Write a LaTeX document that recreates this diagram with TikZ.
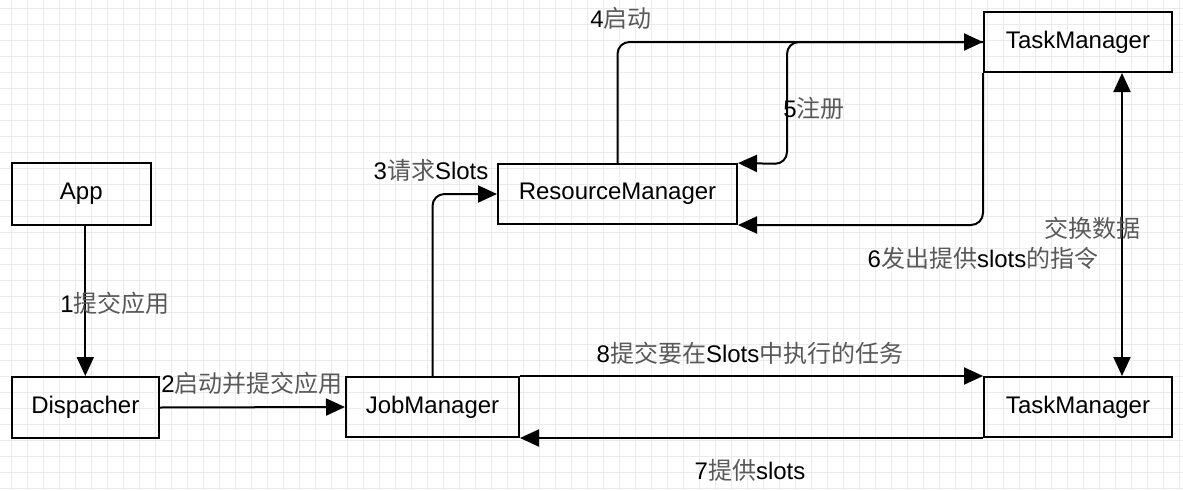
\documentclass[tikz,border=0pt]{standalone}
\usepackage{fontspec}
\setmainfont{Liberation Sans}
\newfontfamily\cjk{Noto Sans CJK SC}
\usetikzlibrary{calc,arrows.meta}
\newcommand{\zh}[1]{{\cjk\color{black!65}#1}}

\begin{document}
\begin{tikzpicture}[%
    x=1pt, y=-1pt,
    font=\fontsize{24}{28}\selectfont,
    bigtri/.tip={Triangle[length=19pt,width=17pt]},
    box/.style={draw, line width=2pt, minimum height=60pt, inner sep=0pt},
    lbl/.style={inner sep=0pt},
    flow/.style={line width=2pt, -bigtri},
    vh/.style={rounded corners=12pt, to path={|- (\tikztotarget)}},
    gridline/.style={black!8, line width=1pt}
  ]
    \useasboundingbox (0,0) rectangle (1183,490);
    \fill[white] (0,0) rectangle (1183,490);
    \foreach \gx in {11.7,27.7,...,1183} {\draw[gridline] (\gx,0) -- (\gx,490);};
    \foreach \gy in {8.3,24.3,...,490} {\draw[gridline] (0,\gy) -- (1183,\gy);};

    \node[box, minimum width=139.5pt, minimum height=62pt] (app)  at (81.3,194)  {App};
    \node[box, minimum width=147pt,   minimum height=61pt] (disp) at (85.3,407.5) {Dispacher};
    \node[box, minimum width=173pt] (jm)    at (432.5,407) {JobManager};
    \node[box, minimum width=239pt] (rm)    at (617.5,194) {ResourceManager};
    \node[box, minimum width=188pt] (tmtop) at (1078,42)   {TaskManager};
    \node[box, minimum width=188pt] (tmbot) at (1078,407)  {TaskManager};

    \coordinate (reg) at (787,164);

    \path[flow] (app.south -| disp.north) edge         (disp.north)
                (disp.east)               edge         (jm.west)
                (jm.north)                edge[vh]     (rm.west)
                (rm.north)                edge[vh]     (tmtop.west)
                (tmtop.south west)        edge[vh]     (rm.south east)
                (jm.north east)           edge         (tmbot.north west)
                (tmbot.south west)        edge         (jm.south east);
    \draw[flow, rounded corners=12pt] (tmtop.west) -| (reg) -- (rm.north east);
    \draw[flow, bigtri-bigtri] ($(tmtop.south east)+(-51,0)$) -- ($(tmbot.north east)+(-51,0)$);

    \node[lbl] (l1) at (115,303)  {1\zh{提交应用}};
    \node[lbl] (l2) at (252,383)  {2\zh{启动并提交应用}};
    \node[lbl] (l3) at (431,170)  {3\zh{请求}Slots};
    \node[lbl] (l4) at (621,18)   {4\zh{启动}};
    \node[lbl] (l5) at (814,108)  {5\zh{注册}};
    \node[lbl] (l6) at (983,258)  {6\zh{发出提供}slots\zh{的指令}};
    \node[lbl] (lx) at (1092,228) {\zh{交换数据}};
    \node[lbl] (l8) at (750,353)  {8\zh{提交要在}Slots\zh{中执行的任务}};
    \node[lbl] (l7) at (750,470)  {7\zh{提供}slots};
\end{tikzpicture}
\end{document}
